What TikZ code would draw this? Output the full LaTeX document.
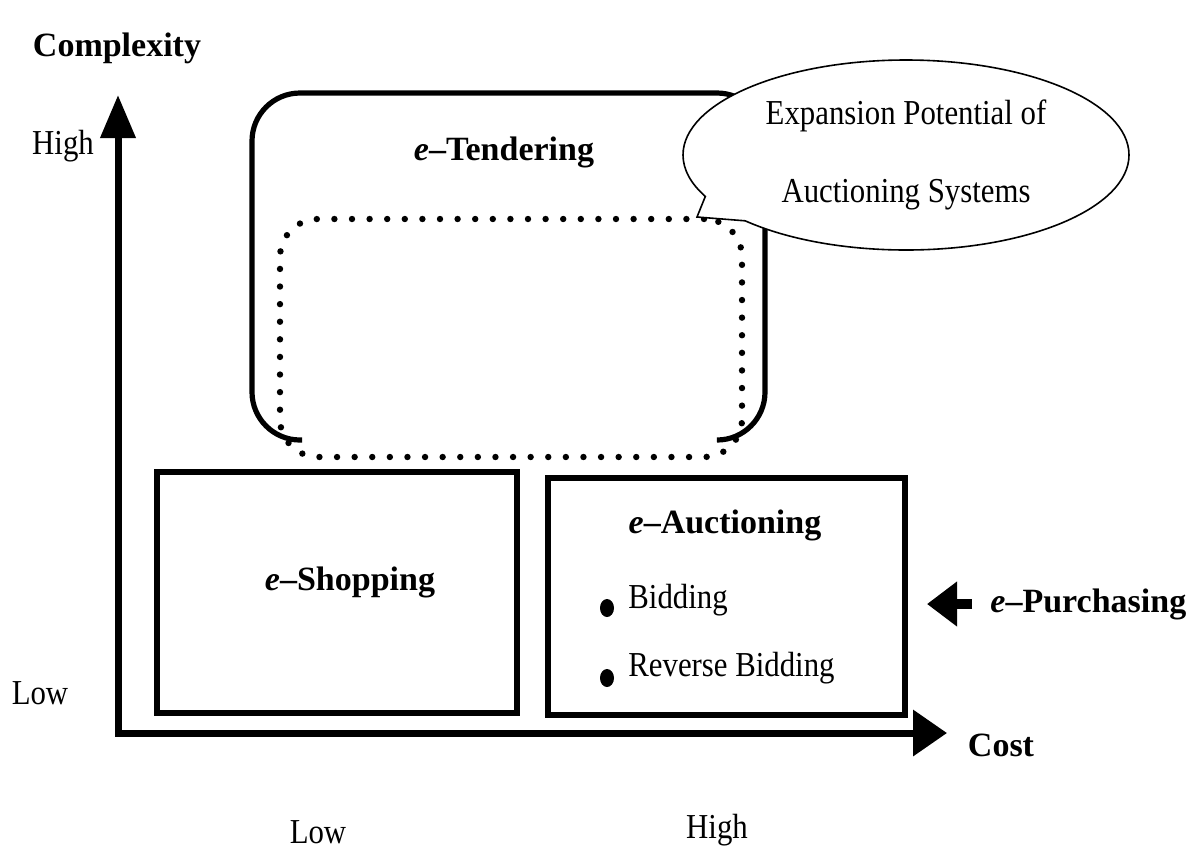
\documentclass[tikz,border=0pt]{standalone}
\usepackage{fontspec}
\setmainfont{Liberation Serif}
\newfontfamily\thinserif[FakeStretch=0.88]{Liberation Serif}
\usetikzlibrary{arrows.meta, shapes.geometric, shapes.callouts}

\begin{document}
\begin{tikzpicture}[x=0.5pt, y=-0.5pt,
        every node/.style={font=\fontsize{17.5}{21}\selectfont\thinserif, inner sep=0pt},
        bold/.style={font=\fontsize{17}{20}\selectfont\bfseries},
        area/.style={rectangle, draw, line width=3pt, inner sep=0pt},
        frame/.style={line width=2.6pt, rounded corners=24pt},
        dots/.style={rectangle, rounded corners=19pt, draw, line width=3.2pt,
            line cap=round, dash pattern=on 0pt off 8.8pt},
        bubble/.style={ellipse callout, draw, line width=0.8pt, fill=white,
            minimum width=223pt, minimum height=95pt, align=center,
            callout pointer arc=18},
        dot/.style={ellipse, fill, minimum width=7pt, minimum height=9pt},
        axis/.style={line width=3.5pt},
        arr/.style={-{Triangle[length=15pt, width=21.5pt]}, line width=5pt}
    ]
    \useasboundingbox (0,0) rectangle (1192,848);

% --- Ejes ---
    \coordinate (origen) at (118,733);
    \coordinate (ytop) at (118,95);
    \coordinate (xend) at (947,733);
    \draw[axis, {Triangle[length=21.5pt, width=17pt]}-{Triangle[length=17pt, width=22.5pt]}]
        (ytop) -- (origen) -- (xend);

    \node[bold] (complexity) at (117,48) {Complexity};
    \node (yhigh) at (63,146) {High};
    \node (ylow) at (40,693) {Low};
    \node[bold] (cost) at (1001,745) {Cost};
    \node (xlow) at (318,832) {Low};
    \node (xhigh) at (717,830) {High};

% --- e-Tendering ---
    \draw[frame] (302,440) -- (252,440) -- (252,93) -- (765,93) -- (765,440) -- (718,440);
    \node[bold] (tendering) at (504,152) {\textit{e}--Tendering};
    \node[dots, minimum width=231pt, minimum height=119pt] (expansion) at (511,338) {};

% --- Globo ---
    \coordinate (punta) at (697,217);
    \node[bubble, callout absolute pointer={(punta)}] (potential) at (906,155)
        {Expansion Potential of\\[18pt]Auctioning Systems};

% --- e-Shopping ---
    \node[area, minimum width=180pt, minimum height=120.5pt] (shop) at (337,592) {};
    \node[bold] (shopping) at (350,582) {\textit{e}--Shopping};

% --- e-Auctioning ---
    \node[area, minimum width=178.5pt, minimum height=118.5pt] (auction) at (726,596) {};
    \node[bold] (auctioning) at (725,525) {\textit{e}--Auctioning};
    \node[dot] (dot1) at (607,608) {};
    \node[dot] (dot2) at (607,678) {};
    \node[anchor=west] (bidding) at (628,600) {Bidding};
    \node[anchor=west] (reverse) at (628,668) {Reverse Bidding};

% --- e-Purchasing ---
    \node[bold, anchor=west] (purchasing) at (990,604) {\textit{e}--Purchasing};
    \coordinate (entrada) at (927,604);
    \draw[arr, shorten <=9pt] (purchasing.west) -- (entrada);
\end{tikzpicture}
\end{document}
